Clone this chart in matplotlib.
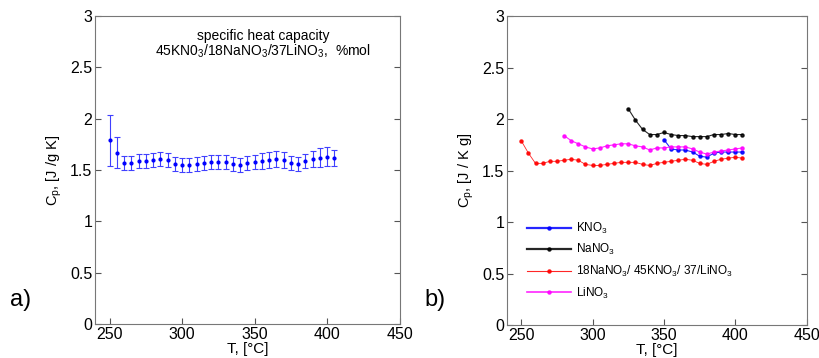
import numpy as np
import matplotlib.pyplot as plt

plt.rcParams['font.family'] = ['Liberation Sans', 'DejaVu Sans']
plt.rcParams['mathtext.fontset'] = 'custom'
plt.rcParams['mathtext.rm'] = 'Liberation Sans'
plt.rcParams['mathtext.it'] = 'Liberation Sans'

# mezcla 45KNO3/18NaNO3/37LiNO3
T_mix = list(range(250, 410, 5))
cp_mix = [1.79, 1.67, 1.57, 1.57, 1.59, 1.59, 1.60, 1.61, 1.60, 1.56, 1.55, 1.55,
          1.56, 1.57, 1.58, 1.58, 1.58, 1.56, 1.55, 1.57, 1.58, 1.59, 1.60, 1.61,
          1.60, 1.57, 1.56, 1.59, 1.61, 1.62, 1.63, 1.62]
err_mix = [0.25, 0.15, 0.065, 0.065, 0.07, 0.07, 0.07, 0.07, 0.07, 0.065, 0.065, 0.065,
           0.065, 0.07, 0.07, 0.07, 0.07, 0.065, 0.065, 0.07, 0.07, 0.08, 0.08, 0.08,
           0.08, 0.065, 0.065, 0.07, 0.08, 0.09, 0.09, 0.08]

T_li = list(range(280, 410, 5))
cp_li = [1.84, 1.79, 1.76, 1.73, 1.71, 1.72, 1.74, 1.75, 1.76, 1.76, 1.74, 1.73, 1.70,
         1.72, 1.72, 1.73, 1.73, 1.73, 1.71, 1.68, 1.66, 1.68, 1.69, 1.70, 1.71, 1.72]

T_na = list(range(325, 410, 5))
cp_na = [2.10, 1.99, 1.90, 1.85, 1.85, 1.87, 1.85, 1.84, 1.84, 1.83, 1.83, 1.83,
         1.85, 1.85, 1.86, 1.85, 1.85]

T_k = list(range(350, 410, 5))
cp_k = [1.80, 1.71, 1.70, 1.70, 1.68, 1.64, 1.63, 1.67, 1.68, 1.68, 1.68, 1.68]

fig = plt.figure(figsize=(8.19, 3.58), dpi=100)
ax1 = fig.add_axes([0.116, 0.095, 0.372, 0.86])
ax2 = fig.add_axes([0.619, 0.092, 0.366, 0.863])

def estilo(ax):
    ax.set_xlim(240, 450)
    ax.set_ylim(0, 3)
    ax.set_xticks([250, 300, 350, 400, 450])
    ax.set_yticks([0, 0.5, 1, 1.5, 2, 2.5, 3])
    ax.set_yticklabels(['0', '0.5', '1', '1.5', '2', '2.5', '3'])
    ax.tick_params(direction='in', top=False, right=True, labelsize=11.5, length=4,
                   color='#555555', pad=2)
    for s in ax.spines.values():
        s.set_color('#777777')
    ax.set_xlabel('T, [°C]', fontsize=11, labelpad=0)

estilo(ax1)
ax1.errorbar(T_mix, cp_mix, yerr=err_mix, fmt='.', color='blue', ecolor='#4040ff',
             elinewidth=0.8, capsize=2.5, capthick=0.8, markersize=4)
ax1.set_ylabel('C$_p$, [J /g K]', fontsize=10.5)
ax1.text(356, 2.77, 'specific heat capacity', ha='center', fontsize=10)
ax1.text(356, 2.62, '45KN0$_3$/18NaNO$_3$/37LiNO$_3$,  %mol', ha='center', fontsize=10)

estilo(ax2)
ax2.plot(T_k, cp_k, '.-', color='blue', lw=0.8, ms=4.5, label='KNO$_3$')
ax2.plot(T_na, cp_na, '.-', color='black', lw=0.8, ms=4.5, label='NaNO$_3$')
ax2.plot(T_mix, cp_mix, '.-', color='red', lw=0.6, ms=4.5,
         label='18NaNO$_3$/ 45KNO$_3$/ 37/LiNO$_3$')
ax2.plot(T_li, cp_li, '.-', color='magenta', lw=0.8, ms=4.5, label='LiNO$_3$')
for l in ax2.lines:
    l.set_alpha(0.85)
ax2.set_ylabel('C$_p$, [J / K g]', fontsize=10.5)
leg = ax2.legend(loc='lower left', bbox_to_anchor=(0.03, 0.045), frameon=False, fontsize=8.5,
                 handlelength=3.8, labelspacing=0.55, handletextpad=0.4)
for h, w in zip(leg.get_lines(), [1.6, 1.6, 0.8, 1.2]):
    h.set_linewidth(w)

fig.text(0.012, 0.145, 'a)', fontsize=17)
fig.text(0.518, 0.145, 'b)', fontsize=17)

fig.savefig('out.png')
